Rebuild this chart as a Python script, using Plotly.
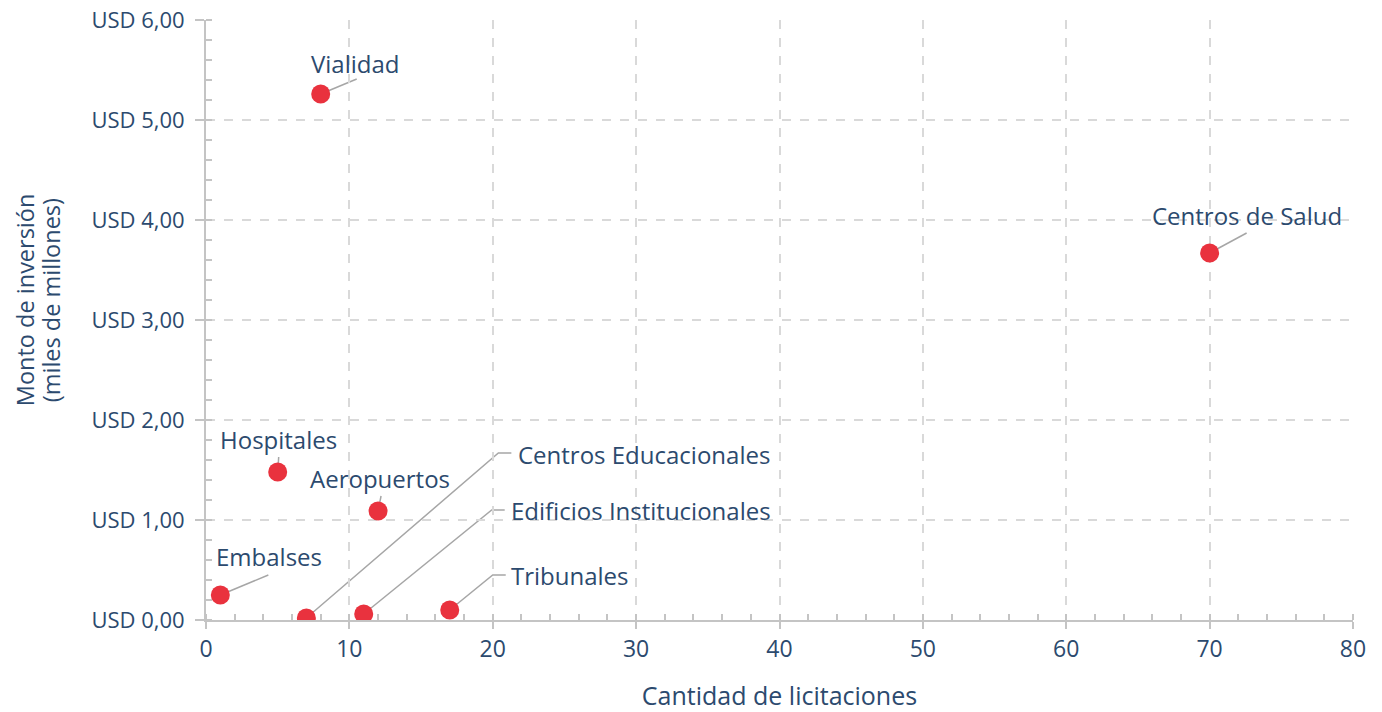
import plotly.graph_objects as go

# datos
categorias = ["Vialidad", "Centros de Salud", "Hospitales", "Aeropuertos", "Embalses",
              "Centros Educacionales", "Edificios Institucionales", "Tribunales"]
licitaciones = [8, 70, 5, 12, 1, 7, 11, 17]
monto = [5.26, 3.67, 1.48, 1.09, 0.25, 0.02, 0.06, 0.10]

y_ticks = [0, 1, 2, 3, 4, 5, 6]
y_labels = ["USD 0,00", "USD 1,00", "USD 2,00", "USD 3,00", "USD 4,00", "USD 5,00", "USD 6,00"]
x_ticks = [0, 10, 20, 30, 40, 50, 60, 70, 80]
y_titulo = ["Monto de inversión", "(miles de millones)"]

AZUL = "#2c4a6e"
ROJO = "#e9323e"
GRIS = "#a6a6a6"
FONT = "Open Sans"

W, H = 1382, 712
L, R, T, B = 206, 29, 20, 92
px_x = (W - L - R) / 80.0
px_y = (H - T - B) / 6.0

# label offsets in px: (line end dx, dy, elbow?, text dx, dy, anchor)
offs = {
    "Vialidad": (36, -15, False, 35, -31, "center"),
    "Centros de Salud": (37, -20, False, 37, -38, "center"),
    "Hospitales": (1, -15, False, 1, -33, "center"),
    "Aeropuertos": (3, -15, False, 2, -33, "center"),
    "Embalses": (48, -20, False, 49, -39, "center"),
    "Centros Educacionales": (192, -165, True, 213, -164, "left"),
    "Edificios Institucionales": (128, -104, True, 148, -104, "left"),
    "Tribunales": (43, -35, True, 62, -35, "left"),
}

fig = go.Figure()
fig.add_trace(go.Scatter(x=licitaciones, y=monto, mode="markers",
                         marker=dict(size=19, color=ROJO), hoverinfo="text",
                         text=categorias, showlegend=False))

for name, xv, yv in zip(categorias, licitaciones, monto):
    dx, dy, elbow, tx, ty, anc = offs[name]
    x1 = xv + dx / px_x
    y1 = yv - dy / px_y
    path = f"M {xv},{yv} L {x1},{y1}"
    if elbow:
        path += f" L {x1 + 13 / px_x},{y1}"
    fig.add_shape(type="path", path=path, xref="x", yref="y",
                  line=dict(color=GRIS, width=1.5), layer="below")
    fig.add_annotation(x=xv + tx / px_x, y=yv - ty / px_y, text=name, showarrow=False,
                       xanchor=anc, yanchor="middle", xshift=-3 if anc == "left" else 0,
                       font=dict(family=FONT, size=24, color=AZUL))

# y title as two rotated lines
for i, linea in enumerate(y_titulo):
    fig.add_annotation(xref="paper", yref="paper", x=(25 + 26 * i - L) / (W - L - R),
                       y=0.533, text=linea, textangle=-90, showarrow=False,
                       xanchor="center", yanchor="middle",
                       font=dict(family=FONT, size=23.5, color=AZUL))

fig.update_layout(
    width=W, height=H,
    margin=dict(l=L, r=R, t=T, b=B, autoexpand=False),
    plot_bgcolor="white", paper_bgcolor="white",
    font=dict(family=FONT, size=22, color=AZUL),
    xaxis=dict(range=[0, 80], tickvals=x_ticks, showgrid=True, gridcolor="#d9d9d9",
               griddash="dash", gridwidth=1.5, showline=True, linecolor="#c4c4c4",
               linewidth=2, ticks="outside", ticklen=7, tickcolor="#c4c4c4", tickwidth=2,
               zeroline=False, automargin=False, ticklabeloverflow="allow",
               tickfont=dict(size=23),
               minor=dict(dtick=2, ticks="inside", ticklen=6, tickcolor="#c4c4c4",
                          tickwidth=1.5, showgrid=False),
               title=dict(text="Cantidad de licitaciones", standoff=28,
                          font=dict(family=FONT, size=25, color=AZUL))),
    yaxis=dict(range=[0, 6], tickvals=y_ticks, ticktext=y_labels, showgrid=True,
               gridcolor="#d9d9d9", griddash="dash", gridwidth=1.5, showline=True,
               linecolor="#c4c4c4", linewidth=2, ticks="outside", ticklen=9,
               tickcolor="#c4c4c4", tickwidth=2, zeroline=False, automargin=False,
               ticklabeloverflow="allow",
               minor=dict(dtick=0.2, ticks="inside", ticklen=6, tickcolor="#c4c4c4",
                          tickwidth=1.5, showgrid=False),
               ticklabelstandoff=6),
)

# drop the default 8px page margin so the figure fills the window, no modebar
fig.write_html("out.html", config={"displayModeBar": False},
               post_script="document.body.style.margin='0';")
